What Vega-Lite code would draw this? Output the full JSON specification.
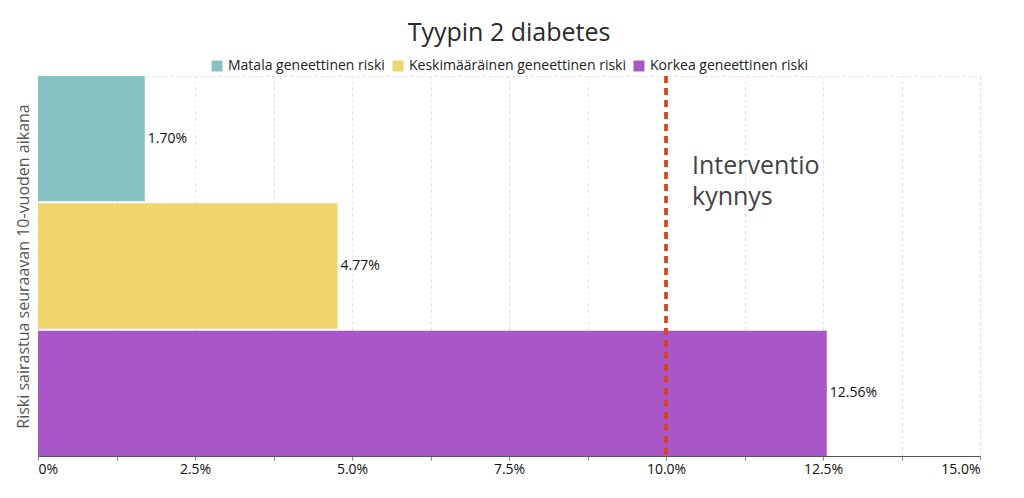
{
  "$schema": "https://vega.github.io/schema/vega-lite/v6.json",
  "autosize": {"type": "none"},
  "padding": {"left": 38, "top": 76, "right": 44, "bottom": 42},
  "width": 942,
  "height": 380,
  "title": {"text": "Tyypin 2 diabetes", "fontSize": 25, "font": "Open Sans", "fontWeight": "normal", "color": "#2a2a2a", "offset": 13},
  "config": {
    "font": "Open Sans",
    "view": {"stroke": "#e3e3e3", "strokeDash": [3, 3]},
    "legend": {"layout": {"top": {"anchor": "middle"}}}
  },
  "data": {
    "values": [
      {"ryhma": "Matala geneettinen riski", "riski": 1.70},
      {"ryhma": "Keskimääräinen geneettinen riski", "riski": 4.77},
      {"ryhma": "Korkea geneettinen riski", "riski": 12.56}
    ]
  },
  "layer": [
    {
      "mark": {"type": "bar"},
      "encoding": {
        "y": {
          "field": "ryhma", "type": "nominal",
          "sort": ["Matala geneettinen riski", "Keskimääräinen geneettinen riski", "Korkea geneettinen riski"],
          "scale": {"paddingInner": 0.016, "paddingOuter": 0},
          "axis": {"title": "Riski sairastua seuraavan 10-vuoden aikana", "labels": false, "ticks": false, "domain": false, "titleFontSize": 16, "titleFontWeight": "normal", "titleColor": "#555555", "titlePadding": 7}
        },
        "x": {
          "field": "riski", "type": "quantitative",
          "scale": {"domain": [0, 15], "nice": false},
          "axis": {
            "title": null,
            "values": [0, 1.25, 2.5, 3.75, 5, 6.25, 7.5, 8.75, 10, 11.25, 12.5, 13.75, 15],
            "labelExpr": "datum.value == 0 ? '0%' : (datum.value % 2.5 == 0 ? format(datum.value, '.1f') + '%' : '')",
            "labelFontSize": 14, "labelColor": "#111111", "labelPadding": 2,
            "tickSize": 4, "tickColor": "#888888",
            "domainColor": "#555555",
            "grid": true, "gridDash": [3, 3], "gridColor": "#e0e0e0"
          }
        },
        "color": {
          "field": "ryhma", "type": "nominal",
          "scale": {
            "domain": ["Matala geneettinen riski", "Keskimääräinen geneettinen riski", "Korkea geneettinen riski"],
            "range": ["#86c1c4", "#f0d46c", "#a957c6"]
          },
          "legend": {"title": null, "orient": "top", "direction": "horizontal", "symbolType": "square", "symbolSize": 120, "symbolStrokeWidth": 0, "symbolOpacity": 1, "labelFontSize": 14, "labelLimit": 0, "labelColor": "#222222", "columnPadding": 6, "symbolOffset": 0, "offset": 3}
        }
      }
    },
    {
      "transform": [{"calculate": "format(datum.riski, '.2f') + '%'", "as": "nimi"}],
      "mark": {"type": "text", "align": "left", "dx": 3, "fontSize": 14, "color": "#111111"},
      "encoding": {
        "y": {"field": "ryhma", "type": "nominal", "sort": ["Matala geneettinen riski", "Keskimääräinen geneettinen riski", "Korkea geneettinen riski"]},
        "x": {"field": "riski", "type": "quantitative"},
        "text": {"field": "nimi", "type": "nominal"}
      }
    },
    {
      "mark": {"type": "rule", "color": "#d9431e", "strokeWidth": 3, "strokeDash": [7, 5]},
      "encoding": {"x": {"datum": 10}}
    },
    {
      "data": {"values": [{"ryhma": "Matala geneettinen riski", "teksti": ["Interventio", "kynnys"]}]},
      "mark": {"type": "text", "align": "left", "baseline": "middle", "fontSize": 25, "color": "#444444", "dx": 26, "dy": 27, "lineHeight": 31},
      "encoding": {
        "y": {"field": "ryhma", "type": "nominal", "sort": ["Matala geneettinen riski", "Keskimääräinen geneettinen riski", "Korkea geneettinen riski"]},
        "x": {"datum": 10},
        "text": {"field": "teksti"}
      }
    }
  ]
}
